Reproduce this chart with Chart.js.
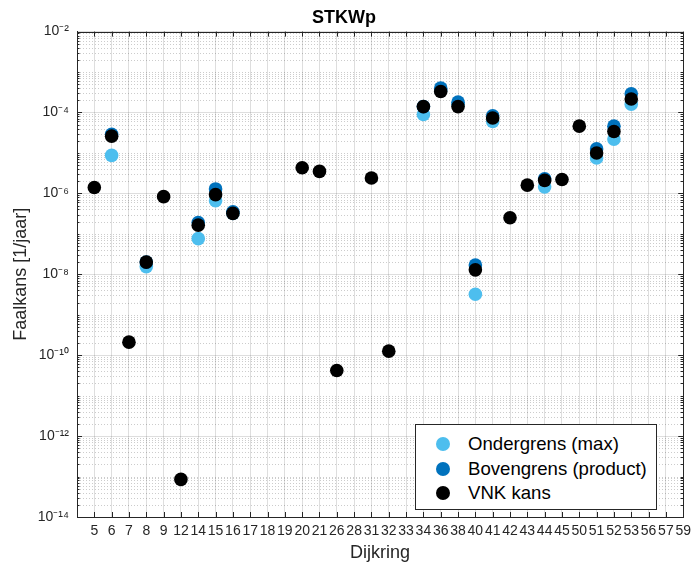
<!DOCTYPE html>
<html>
<head>
<meta charset="utf-8">
<script src="https://cdn.jsdelivr.net/npm/chart.js@4/dist/chart.umd.min.js"></script>
<style>
  body { margin: 0; background: #fff; }
  #wrap { position: relative; width: 697px; height: 572px; }
  #legend { position: absolute; left: 415px; top: 424px; width: 240px; height: 84px;
    border: 1px solid #262626; background: #fff; font: 18.6px 'Liberation Sans', Arial, sans-serif; color: #000; }
  #legend .row { position: absolute; left: 0; height: 24px; line-height: 24px; }
  #legend .dot { position: absolute; left: 20px; top: 5px; width: 14px; height: 14px; border-radius: 50%; }
  #legend .txt { position: absolute; left: 52px; white-space: nowrap; }
</style>
</head>
<body>
<div id="wrap">
  <canvas id="chart" width="697" height="572"></canvas>
  <div id="legend"></div>
</div>
<script>
// categories on x axis
var dijkring = ['5','6','7','8','9','12','14','15','16','17','18','19','20','21','26','28','31','32','33',
  '34','36','38','40','41','42','43','44','45','50','51','52','53','56','57','59'];

// failure probabilities per dijkring (null = no value)
var ondergrens = [null, 8.7e-6, null, 1.55e-8, null, null, 7.6e-8, 6.6e-7, 3.2e-7, null, null, null,
  null, null, null, null, null, null, null,
  8.9e-5, 3.6e-4, 1.6e-4, 3.2e-9, 6.0e-5, null, null, 1.45e-6, null, null, 7.5e-6, 2.2e-5, 1.6e-4, null, null, null];
var bovengrens = [null, 2.9e-5, null, 2.0e-8, null, null, 1.9e-7, 1.29e-6, 3.5e-7, null, null, null,
  null, null, null, null, null, null, null,
  1.4e-4, 4.0e-4, 1.8e-4, 1.7e-8, 8.3e-5, null, null, 2.3e-6, null, null, 1.26e-5, 4.6e-5, 2.9e-4, null, null, null];
var vnkKans = [1.4e-6, 2.6e-5, 2.1e-10, 2.0e-8, 8.3e-7, 8.5e-14, 1.64e-7, 9.3e-7, 3.2e-7, null, null, null,
  4.3e-6, 3.5e-6, 4.2e-11, null, 2.4e-6, 1.26e-10, null,
  1.4e-4, 3.3e-4, 1.4e-4, 1.29e-8, 7.3e-5, 2.5e-7, 1.6e-6, 2.1e-6, 2.2e-6, 4.6e-5, 1.0e-5, 3.4e-5, 2.15e-4, null, null, null];

var yExponents = [-14, -12, -10, -8, -6, -4, -2];

var seriesNames = ['Ondergrens (max)', 'Bovengrens (product)', 'VNK kans'];
var seriesColors = ['#4DBEEE', '#0072BD', '#000000'];

function toPoints(vals) {
  var pts = [];
  vals.forEach(function (v, i) { if (v !== null) pts.push({ x: i + 1, y: v }); });
  return pts;
}

var sup = { '-': '\u207B', '0': '\u2070', '1': '\u00B9', '2': '\u00B2', '3': '\u00B3', '4': '\u2074',
  '5': '\u2075', '6': '\u2076', '7': '\u2077', '8': '\u2078', '9': '\u2079' };
function powLabel(v) {
  var e = String(Math.round(Math.log10(v)));
  return '10' + e.split('').map(function (c) { return sup[c]; }).join('');
}

var axisColor = '#262626';

// MATLAB style box, inward ticks and dotted minor grid
var axesBox = {
  id: 'axesBox',
  beforeDatasetsDraw: function (chart) {
    var ctx = chart.ctx, a = chart.chartArea, x = chart.scales.x, y = chart.scales.y;
    ctx.save();
    ctx.lineWidth = 1;
    ctx.strokeStyle = 'rgba(0,0,0,0.2)';
    ctx.setLineDash([1, 2]);
    for (var e = -14; e < -2; e++) {
      for (var k = 1; k <= 9; k++) {
        if (k === 1 && e % 2 === 0) continue;
        var py = Math.round(y.getPixelForValue(k * Number('1e' + e))) + 0.5;
        ctx.beginPath(); ctx.moveTo(a.left, py); ctx.lineTo(a.right, py); ctx.stroke();
      }
    }
    ctx.setLineDash([]);
    ctx.strokeStyle = axisColor;
    // y ticks, left and right
    for (var e2 = -14; e2 < -2; e2++) {
      for (var k2 = 1; k2 <= 9; k2++) {
        var py2 = Math.round(y.getPixelForValue(k2 * Number('1e' + e2))) + 0.5;
        var len = (k2 === 1 && e2 % 2 === 0) ? 5 : 2.5;
        ctx.beginPath();
        ctx.moveTo(a.left, py2); ctx.lineTo(a.left + len, py2);
        ctx.moveTo(a.right, py2); ctx.lineTo(a.right - len, py2);
        ctx.stroke();
      }
    }
    // x ticks, bottom and top
    for (var i = 0; i <= dijkring.length; i++) {
      var px = Math.round(x.getPixelForValue(i)) + 0.5;
      ctx.beginPath();
      ctx.moveTo(px, a.bottom); ctx.lineTo(px, a.bottom - 5);
      ctx.moveTo(px, a.top); ctx.lineTo(px, a.top + 5);
      ctx.stroke();
    }
    ctx.strokeRect(Math.round(a.left) + 0.5, Math.round(a.top) + 0.5,
      Math.round(a.right - a.left), Math.round(a.bottom - a.top));
    ctx.restore();
  }
};

Chart.defaults.font.family = "'Liberation Sans', Arial, sans-serif";
Chart.defaults.color = axisColor;

var datasets = [ondergrens, bovengrens, vnkKans].map(function (vals, i) {
  return {
    label: seriesNames[i],
    data: toPoints(vals),
    backgroundColor: seriesColors[i],
    borderWidth: 0,
    pointRadius: 6.8,
    pointHoverRadius: 6.8,
    order: 3 - i
  };
});

new Chart(document.getElementById('chart').getContext('2d'), {
  type: 'scatter',
  data: { datasets: datasets },
  options: {
    responsive: false,
    animation: false,
    layout: { padding: { left: 0, right: 9, top: 0, bottom: 0 } },
    plugins: {
      legend: { display: false },
      tooltip: { enabled: false },
      title: {
        display: true, text: 'STKWp', color: '#000',
        font: { size: 18, weight: 'bold' },
        padding: { top: 7, bottom: 3 }
      }
    },
    scales: {
      x: {
        type: 'linear', min: 0, max: dijkring.length,
        afterFit: function (s) { s.height = 55; },
        afterBuildTicks: function (s) {
          s.ticks = [];
          for (var i = 0; i <= dijkring.length; i++) s.ticks.push({ value: i });
        },
        ticks: {
          autoSkip: false, maxRotation: 0, minRotation: 0, padding: 6,
          font: { size: 14 }, color: axisColor,
          callback: function (v) { return dijkring[v - 1] || ''; }
        },
        grid: { color: 'rgba(0,0,0,0.13)', drawTicks: false },
        border: { color: axisColor },
        title: { display: true, text: 'Dijkring', font: { size: 18 }, color: axisColor, padding: { top: 0, bottom: 8 } }
      },
      y: {
        type: 'logarithmic', min: 1e-14, max: 1e-2,
        afterFit: function (s) { s.width = 77; },
        afterBuildTicks: function (s) {
          s.ticks = yExponents.map(function (e) { return { value: Number('1e' + e) }; });
        },
        ticks: {
          autoSkip: false, padding: 8, font: { size: 14 }, color: axisColor,
          callback: function (v) { return powLabel(v); }
        },
        grid: { color: 'rgba(0,0,0,0.13)', drawTicks: false },
        border: { color: axisColor },
        title: { display: true, text: 'Faalkans [1/jaar]', font: { size: 18 }, color: axisColor, padding: { top: 10, bottom: 0 } }
      }
    }
  },
  plugins: [axesBox]
});

// legend inside the axes, bottom right
var leg = document.getElementById('legend');
seriesNames.forEach(function (name, i) {
  var row = document.createElement('div');
  row.className = 'row';
  row.style.top = (7 + i * 24.5) + 'px';
  row.innerHTML = '<span class="dot" style="background:' + seriesColors[i] + '"></span><span class="txt">' + name + '</span>';
  leg.appendChild(row);
});
</script>
</body>
</html>
